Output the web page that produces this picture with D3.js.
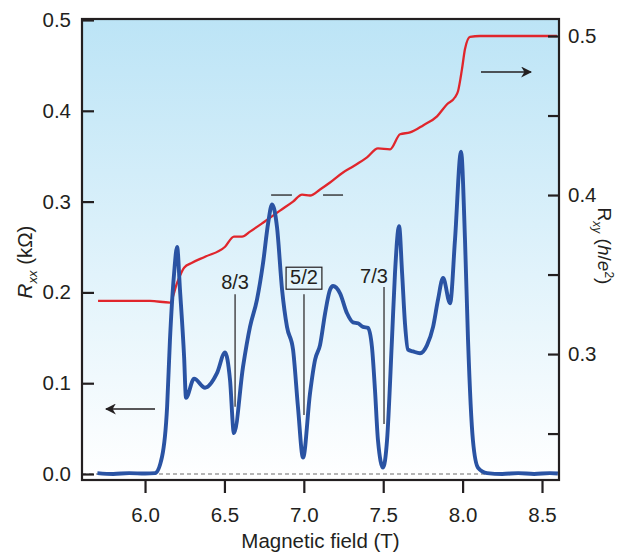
<!DOCTYPE html>
<html>
<head>
<meta charset="utf-8">
<script src="https://cdn.jsdelivr.net/npm/d3@7"></script>
<style>
  body { margin: 0; background: #fff; }
  svg { display: block; font-family: "Liberation Sans", Arial, sans-serif; }
</style>
</head>
<body>
<div id="chart"></div>
<script>
// Rxx trace (kOhm) vs magnetic field (T)
const fieldXX = [5.70, 5.80, 5.90, 6.00, 6.063, 6.107, 6.139, 6.157, 6.183, 6.202, 6.220, 6.246, 6.258,
  6.309, 6.378, 6.453, 6.504, 6.535, 6.560, 6.617, 6.661, 6.705, 6.743, 6.775, 6.800, 6.831, 6.863,
  6.894, 6.932, 6.963, 6.995, 7.039, 7.071, 7.102, 7.134, 7.165, 7.184, 7.228, 7.272, 7.310, 7.341,
  7.373, 7.404, 7.429, 7.448, 7.467, 7.499, 7.524, 7.555, 7.574, 7.600, 7.619, 7.637, 7.656, 7.688,
  7.732, 7.776, 7.814, 7.845, 7.877, 7.921, 7.952, 7.990, 8.015, 8.034, 8.065, 8.097, 8.154, 8.25,
  8.35, 8.45, 8.55, 8.60];
const rxx = [0.001, 0.000, 0.001, 0.0005, 0.001, 0.019, 0.074, 0.148, 0.221, 0.250, 0.203, 0.129, 0.084,
  0.105, 0.095, 0.111, 0.134, 0.104, 0.045, 0.118, 0.162, 0.192, 0.232, 0.276, 0.297, 0.272, 0.203,
  0.162, 0.137, 0.074, 0.018, 0.089, 0.126, 0.142, 0.177, 0.203, 0.207, 0.199, 0.177, 0.167, 0.166,
  0.162, 0.161, 0.140, 0.093, 0.037, 0.007, 0.037, 0.148, 0.221, 0.273, 0.221, 0.166, 0.137, 0.135,
  0.133, 0.142, 0.162, 0.192, 0.216, 0.188, 0.258, 0.355, 0.258, 0.148, 0.037, 0.007, 0.001, 0.000,
  0.001, 0.000, 0.001, 0.0005];

// Rxy trace (h/e^2)
const fieldXY = [5.704, 6.031, 6.157, 6.202, 6.246, 6.296, 6.378, 6.504, 6.560, 6.611, 6.661, 6.743,
  6.850, 6.932, 6.989, 7.039, 7.102, 7.165, 7.247, 7.310, 7.398, 7.467, 7.543, 7.606, 7.669, 7.751,
  7.839, 7.902, 7.952, 7.971, 7.996, 8.015, 8.047, 8.110, 8.594];
const rxy = [0.3334, 0.3334, 0.3324, 0.3448, 0.3543, 0.3574, 0.3612, 0.3675, 0.3738, 0.3738, 0.3770, 0.3826,
  0.3902, 0.3959, 0.4003, 0.3997, 0.4035, 0.4079, 0.4142, 0.4180, 0.4237, 0.4293, 0.4287, 0.4382, 0.4394, 0.4438,
  0.4495, 0.4571, 0.4615, 0.4653, 0.4792, 0.4918, 0.4994, 0.5000, 0.5000];

// filling-factor labels and their pointer lines (field, Rxx top, Rxx bottom)
const fractions = ["8/3", "5/2", "7/3"];
const fractionField = [6.567, 7.001, 7.505];
const fractionTop = [0.198, 0.198, 0.206];
const fractionBottom = [0.074, 0.065, 0.055];

// short marks at the 5/2 plateau of Rxy
const plateauLevel = 0.4;
const plateauStart = [6.794, 7.121];
const plateauEnd = [6.925, 7.247];

const xTicks = [6.0, 6.5, 7.0, 7.5, 8.0, 8.5];
const leftTicks = [0.0, 0.1, 0.2, 0.3, 0.4, 0.5];
const rightTicks = [0.25, 0.3, 0.35, 0.4, 0.45, 0.5];
const rightLabels = [0.3, 0.4, 0.5];

const chart = {};

chart.width = 619;
chart.height = 553;
chart.box = {left: 82, right: 559, top: 19, bottom: 480};
chart.ink = "#231f20";

chart.draw = function () {
    const b = chart.box;
    const svg = d3.select("#chart").append("svg")
        .attr("width", chart.width)
        .attr("height", chart.height);

    const x = d3.scaleLinear().domain([5.603, 8.607]).range([b.left, b.right]);
    const yL = d3.scaleLinear().domain([-0.0066, 0.5011]).range([b.bottom, b.top]);
    const yR = d3.scaleLinear().domain([0.2208, 0.5107]).range([b.bottom, b.top]);

    const defs = svg.append("defs");
    const grad = defs.append("linearGradient")
        .attr("id", "bg").attr("x1", 0).attr("y1", 0).attr("x2", 0).attr("y2", 1);
    grad.append("stop").attr("offset", "0%").attr("stop-color", "#bce4f6");
    grad.append("stop").attr("offset", "100%").attr("stop-color", "#ffffff");

    defs.append("marker")
        .attr("id", "arrow")
        .attr("viewBox", "0 0 10 10")
        .attr("refX", 9).attr("refY", 5)
        .attr("markerWidth", 11).attr("markerHeight", 11)
        .attr("markerUnits", "userSpaceOnUse")
        .attr("orient", "auto")
        .append("path")
        .attr("d", "M0,0 L10,5 L0,10 L3,5 Z")
        .attr("fill", chart.ink);

    svg.append("rect")
        .attr("x", b.left).attr("y", b.top)
        .attr("width", b.right - b.left).attr("height", b.bottom - b.top)
        .attr("fill", "url(#bg)");

    // zero line
    svg.append("line")
        .attr("x1", b.left).attr("x2", b.right)
        .attr("y1", yL(0)).attr("y2", yL(0))
        .attr("stroke", "#6d6d6d").attr("stroke-width", 1.2)
        .attr("stroke-dasharray", "4,3");

    const lineXY = d3.line()
        .x((d, i) => x(fieldXY[i]))
        .y((d) => yR(d))
        .curve(d3.curveMonotoneX);
    svg.append("path")
        .attr("d", lineXY(rxy))
        .attr("fill", "none")
        .attr("stroke", "#e0262c")
        .attr("stroke-width", 2.3);

    const lineXX = d3.line()
        .x((d, i) => x(fieldXX[i]))
        .y((d) => yL(d))
        .curve(d3.curveMonotoneX);
    svg.append("path")
        .attr("d", lineXX(rxx))
        .attr("fill", "none")
        .attr("stroke", "#2a53a3")
        .attr("stroke-width", 3.9)
        .attr("stroke-linejoin", "round");

    // plateau marks
    svg.selectAll(".plateau")
        .data(plateauStart)
        .join("line")
        .attr("x1", (d) => x(d))
        .attr("x2", (d, i) => x(plateauEnd[i]))
        .attr("y1", yR(plateauLevel)).attr("y2", yR(plateauLevel))
        .attr("stroke", chart.ink).attr("stroke-width", 1.3);

    // fraction labels
    const frac = svg.append("g");
    frac.selectAll("line")
        .data(fractions)
        .join("line")
        .attr("x1", (d, i) => x(fractionField[i]))
        .attr("x2", (d, i) => x(fractionField[i]))
        .attr("y1", (d, i) => yL(fractionTop[i]))
        .attr("y2", (d, i) => yL(fractionBottom[i]))
        .attr("stroke", chart.ink).attr("stroke-width", 1.2);
    const labelShift = [0, 0, -10];
    const labelLift = [5, 10, 4];
    frac.selectAll("text")
        .data(fractions)
        .join("text")
        .attr("x", (d, i) => x(fractionField[i]) + labelShift[i])
        .attr("y", (d, i) => yL(fractionTop[i]) - labelLift[i])
        .attr("text-anchor", "middle")
        .attr("font-size", 20)
        .attr("fill", chart.ink)
        .text((d) => d);
    const boxed = frac.selectAll("text").filter((d) => d == "5/2").node().getBBox();
    frac.append("rect")
        .attr("x", boxed.x - 4).attr("y", boxed.y + 1)
        .attr("width", boxed.width + 8).attr("height", boxed.height)
        .attr("fill", "none").attr("stroke", chart.ink).attr("stroke-width", 1.2);

    // arrows pointing at the axis of each trace
    svg.append("line")
        .attr("x1", 155).attr("x2", 106).attr("y1", 409).attr("y2", 409)
        .attr("stroke", chart.ink).attr("stroke-width", 1.4)
        .attr("marker-end", "url(#arrow)");
    svg.append("line")
        .attr("x1", 481).attr("x2", 531).attr("y1", 72).attr("y2", 72)
        .attr("stroke", chart.ink).attr("stroke-width", 1.4)
        .attr("marker-end", "url(#arrow)");

    // frame
    svg.append("rect")
        .attr("x", b.left).attr("y", b.top)
        .attr("width", b.right - b.left).attr("height", b.bottom - b.top)
        .attr("fill", "none").attr("stroke", chart.ink).attr("stroke-width", 2.2);

    const ax = svg.append("g")
        .attr("transform", "translate(0," + b.bottom + ")")
        .call(d3.axisBottom(x).tickValues(xTicks).tickSize(13).tickPadding(14).tickFormat(d3.format(".1f")));
    const al = svg.append("g")
        .attr("transform", "translate(" + b.left + ",0)")
        .call(d3.axisLeft(yL).tickValues(leftTicks).tickSize(-12).tickPadding(11).tickFormat(d3.format(".1f")));
    const ar = svg.append("g")
        .attr("transform", "translate(" + b.right + ",0)")
        .call(d3.axisRight(yR).tickValues(rightTicks).tickSize(-11).tickPadding(9)
            .tickFormat((d) => rightLabels.some((v) => Math.abs(v - d) < 1e-9) ? d3.format(".1f")(d) : ""));
    for (const g of [ax, al, ar]) {
        g.select(".domain").remove();
        g.selectAll(".tick line").attr("stroke", chart.ink).attr("stroke-width", 2.2);
        g.selectAll(".tick text").attr("font-size", 20.5).attr("fill", chart.ink)
            .attr("font-family", "Liberation Sans, Arial, sans-serif");
    }

    svg.append("text")
        .attr("x", (b.left + b.right) / 2).attr("y", 548)
        .attr("text-anchor", "middle")
        .attr("font-size", 20.5).attr("fill", chart.ink)
        .text("Magnetic field (T)");

    const tl = svg.append("text")
        .attr("transform", "translate(32,262) rotate(-90)")
        .attr("text-anchor", "middle")
        .attr("font-size", 20.5).attr("fill", chart.ink);
    tl.append("tspan").attr("font-style", "italic").text("R");
    tl.append("tspan").attr("font-style", "italic").attr("font-size", 13).attr("dy", 5).text("xx");
    tl.append("tspan").attr("dy", -5).text(" (kΩ)");

    const tr = svg.append("text")
        .attr("transform", "translate(598,246) rotate(90)")
        .attr("text-anchor", "middle")
        .attr("font-size", 19).attr("fill", chart.ink);
    tr.append("tspan").text("R");
    tr.append("tspan").attr("font-style", "italic").attr("font-size", 12).attr("dy", 5).text("xy");
    tr.append("tspan").attr("dy", -5).text(" (");
    tr.append("tspan").attr("font-style", "italic").text("h");
    tr.append("tspan").text("/");
    tr.append("tspan").attr("font-style", "italic").text("e");
    tr.append("tspan").attr("font-size", 12).attr("dy", -7).text("2");
    tr.append("tspan").attr("dy", 7).text(")");
}

chart.draw();
</script>
</body>
</html>
